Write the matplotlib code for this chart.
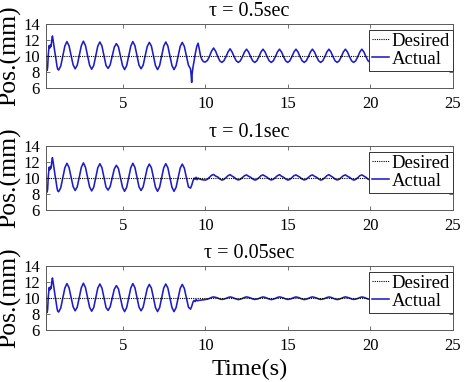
import numpy as np
import matplotlib
matplotlib.use("Agg")
import matplotlib.pyplot as plt

plt.rcParams['font.family'] = ['Liberation Serif', 'DejaVu Serif']

# ---------------- data ----------------
tau_labels = ["τ = 0.5sec", "τ = 0.1sec", "τ = 0.05sec"]
legend_labels = ["Desired", "Actual"]
x_ticks = [5, 10, 15, 20, 25]
y_ticks = [6, 8, 10, 12, 14]

desired_time = [0.33, 20.1]
desired_pos = [10.0, 10.0]

# start-up transient (shared by all three runs)
t_transient = [0.33, 0.34, 0.37, 0.40, 0.43, 0.47, 0.52, 0.56, 0.60, 0.64,
               0.68, 0.72, 0.76, 0.80, 0.84, 0.88, 0.92, 0.96, 1.00, 1.04]
pos_transient = [6.0, 8.2, 8.7, 8.2, 8.6, 10.2, 11.3, 11.0, 11.4, 11.2,
                 12.0, 12.5, 12.0, 11.4, 10.9, 10.3, 9.8, 9.2, 8.7, 8.35]

# phase 1 (before the delay is compensated), samples every 0.125 s from t = 1.1
phase1_start, sample_step = 1.1, 0.125
pos_phase1 = [
    8.25, 8.75, 10.0, 11.25, 11.8, 11.3, 10.1, 8.9,
    8.4, 8.85, 10.05, 11.3, 11.85, 11.3, 10.05, 8.85,
    8.35, 8.8, 10.0, 11.25, 11.75, 11.25, 10.0, 8.8,
    8.45, 8.9, 10.0, 11.1, 11.55, 11.15, 10.0, 8.8,
    8.3, 8.8, 10.0, 11.25, 11.8, 11.3, 10.05, 8.85,
    8.4, 8.85, 10.0, 11.2, 11.7, 11.25, 10.0, 8.8,
    8.3, 8.8, 10.0, 11.25, 11.75, 11.25, 10.0, 8.8,
    8.3, 8.8, 10.0, 11.2, 11.7, 11.2, 10.0, 8.85,
]

# switching transients (t ~ 9.1 .. 10)
t_switch_050 = [9.1, 9.14, 9.17, 9.2, 9.25, 9.32, 9.4, 9.48, 9.56, 9.63, 9.7, 9.78, 9.86, 9.93]
pos_switch_050 = [8.4, 7.6, 6.7, 7.8, 8.6, 9.4, 10.4, 11.2, 11.6, 10.9, 10.1, 9.6, 9.35, 9.25]
t_switch_010 = [9.1, 9.18, 9.25, 9.32, 9.38, 9.44, 9.5, 9.56, 9.64, 9.72, 9.8, 9.9]
pos_switch_010 = [8.7, 9.1, 9.6, 9.95, 9.8, 10.05, 9.75, 9.95, 9.85, 9.8, 9.75, 9.72]
t_switch_005 = [9.1, 9.18, 9.25, 9.32, 9.38, 9.44, 9.5, 9.6, 9.7, 9.8, 9.9]
pos_switch_005 = [8.6, 9.0, 9.5, 9.7, 9.55, 9.8, 9.65, 9.7, 9.72, 9.75, 9.78]

# phase 2 (after compensation), samples every 0.125 s from t = 10.0 to 20.0
phase2_start = 10.0
pos_phase2_050 = [
    9.25, 9.45, 9.95, 10.6, 11.0, 10.6, 9.95, 9.4,
    9.2, 9.4, 9.9, 10.5, 10.9, 10.5, 9.9, 9.4,
    9.2, 9.4, 9.9, 10.5, 10.85, 10.5, 9.9, 9.4,
    9.2, 9.4, 9.9, 10.5, 10.85, 10.5, 9.9, 9.4,
    9.2, 9.4, 9.9, 10.5, 10.85, 10.5, 9.9, 9.4,
    9.2, 9.4, 9.9, 10.5, 10.85, 10.5, 9.9, 9.4,
    9.2, 9.4, 9.9, 10.5, 10.85, 10.5, 9.9, 9.4,
    9.2, 9.4, 9.9, 10.5, 10.85, 10.5, 9.9, 9.4,
    9.2, 9.4, 9.9, 10.5, 10.85, 10.5, 9.9, 9.4,
    9.2, 9.4, 9.9, 10.5, 10.85, 10.5, 9.9, 9.4,
    9.2,
]
pos_phase2_010 = [
    9.7, 9.8, 10.05, 10.3, 10.4, 10.2, 10.1, 9.85,
    9.7, 9.78, 10.0, 10.25, 10.38, 10.2, 10.05, 9.82,
    9.72, 9.8, 10.02, 10.25, 10.35, 10.18, 10.05, 9.85,
    9.7, 9.78, 10.0, 10.25, 10.35, 10.2, 10.05, 9.82,
    9.72, 9.8, 10.02, 10.25, 10.38, 10.18, 10.05, 9.85,
    9.7, 9.78, 10.0, 10.25, 10.35, 10.2, 10.05, 9.82,
    9.72, 9.8, 10.02, 10.25, 10.35, 10.18, 10.05, 9.85,
    9.7, 9.78, 10.0, 10.25, 10.38, 10.2, 10.05, 9.82,
    9.72, 9.8, 10.02, 10.25, 10.35, 10.18, 10.05, 9.85,
    9.7, 9.78, 10.0, 10.25, 10.35, 10.2, 10.05, 9.82,
    9.72,
]
pos_phase2_005 = [
    9.8, 9.85, 9.95, 10.07, 10.14, 10.08, 10.0, 9.88,
    9.82, 9.86, 9.94, 10.06, 10.13, 10.08, 9.98, 9.87,
    9.8, 9.85, 9.95, 10.07, 10.14, 10.08, 10.0, 9.88,
    9.82, 9.86, 9.94, 10.06, 10.13, 10.08, 9.98, 9.87,
    9.8, 9.85, 9.95, 10.07, 10.14, 10.08, 10.0, 9.88,
    9.82, 9.86, 9.94, 10.06, 10.13, 10.08, 9.98, 9.87,
    9.8, 9.85, 9.95, 10.07, 10.14, 10.08, 10.0, 9.88,
    9.82, 9.86, 9.94, 10.06, 10.13, 10.08, 9.98, 9.87,
    9.8, 9.85, 9.95, 10.07, 10.14, 10.08, 10.0, 9.88,
    9.82, 9.86, 9.94, 10.06, 10.13, 10.08, 9.98, 9.87,
    9.82,
]

switch_times = [t_switch_050, t_switch_010, t_switch_005]
switch_pos = [pos_switch_050, pos_switch_010, pos_switch_005]
phase2_pos = [pos_phase2_050, pos_phase2_010, pos_phase2_005]

# ---------------- figure ----------------
fig = plt.figure(figsize=(4.65, 3.82), dpi=100)
W, H = 465.0, 382.0
ax_left, ax_right = 46.0, 452.5
ax_tops = [24.0, 145.7, 266.0]
ax_h = 64.0

blue = '#1c1cc8'
spine_col = '#5a5a5a'

t1 = phase1_start + sample_step * np.arange(len(pos_phase1))
for i in range(3):
    top = ax_tops[i]
    ax = fig.add_axes([ax_left / W, 1 - (top + ax_h) / H,
                       (ax_right - ax_left) / W, ax_h / H])
    t2 = phase2_start + sample_step * np.arange(len(phase2_pos[i]))
    t_all = np.concatenate([t_transient, t1, switch_times[i], t2])
    p_all = np.concatenate([pos_transient, pos_phase1, switch_pos[i], phase2_pos[i]])
    h_act, = ax.plot(t_all, p_all, color=blue, lw=1.15, zorder=2)
    h_des, = ax.plot(desired_time, desired_pos, color='black', ls=(0, (1, 1)),
                     lw=0.8, zorder=3)
    ax.set_xlim(0.33, 25)
    ax.set_ylim(6, 14)
    ax.set_xticks(x_ticks)
    ax.set_yticks(y_ticks)
    ax.tick_params(direction='in', top=True, right=True, length=3, width=0.6,
                   color=spine_col, labelsize=12, labelcolor='black')
    ax.tick_params(axis='x', pad=6)
    ax.tick_params(axis='y', pad=4.5)
    for s in ax.spines.values():
        s.set_color(spine_col)
        s.set_linewidth(0.7)
    ax.set_title(tau_labels[i], fontsize=14.5, pad=6)
    ax.set_ylabel("Pos.(mm)", fontsize=18.5, labelpad=1)
    leg = ax.legend([h_des, h_act], legend_labels, loc='upper right',
                    bbox_to_anchor=(1.0, 1 - 6 / 64), borderaxespad=0,
                    fontsize=13.5, frameon=True, fancybox=False, framealpha=1,
                    edgecolor='#333333', borderpad=0.15, handlelength=0.9,
                    handletextpad=0.15, labelspacing=0.05)
    leg.get_frame().set_linewidth(0.7)
    if i == 2:
        ax.set_xlabel("Time(s)", fontsize=17.5, labelpad=3)

fig.savefig("out.png", dpi=100)
